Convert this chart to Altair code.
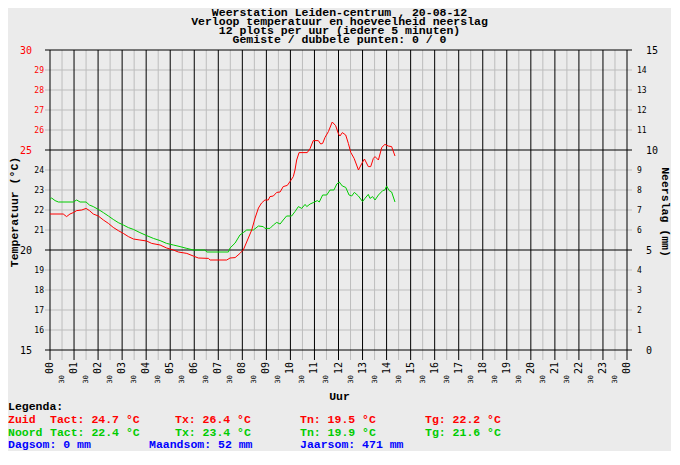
import altair as alt
import pandas as pd

TITLE_LINES = [
    "Weerstation Leiden-centrum , 20-08-12",
    "Verloop temperatuur en hoeveelheid neerslag",
    "12 plots per uur (iedere 5 minuten)",
    "Gemiste / dubbele punten: 0 / 0",
]

ZUID_H = [0.0, 0.55, 0.69, 0.83, 0.97, 1.11, 1.32, 1.5, 1.64, 1.8, 2.01, 2.22, 2.43, 2.63,
          2.84, 3.05, 3.26, 3.47, 3.74, 4.02, 4.23, 4.58, 4.85, 5.13, 5.34, 5.69, 5.96, 6.17,
          6.59, 6.66, 7.35, 7.49, 7.7, 7.9, 8.04, 8.25, 8.39, 8.53, 8.67, 8.8, 8.94, 9.08,
          9.15, 9.29, 9.43, 9.57, 9.7, 9.87, 10.01, 10.12, 10.19, 10.26, 10.36, 10.7, 10.82,
          10.95, 11.16, 11.26, 11.34, 11.44, 11.58, 11.74, 11.88, 12.0, 12.06, 12.16, 12.3,
          12.41, 12.51, 12.65, 12.83, 12.97, 13.08, 13.24, 13.34, 13.45, 13.52, 13.66, 13.8,
          13.93, 14.07, 14.21, 14.35]
ZUID_T = [21.8, 21.8, 21.67, 21.8, 21.87, 21.97, 22.0, 22.08, 21.97, 21.8, 21.7, 21.5, 21.33,
          21.13, 20.97, 20.83, 20.67, 20.55, 20.5, 20.45, 20.33, 20.25, 20.1, 20.0, 19.9,
          19.83, 19.7, 19.6, 19.58, 19.5, 19.5, 19.6, 19.62, 19.83, 20.0, 20.6, 21.0, 21.6,
          22.1, 22.35, 22.5, 22.5, 22.67, 22.7, 22.88, 22.9, 23.17, 23.23, 23.47, 23.67, 24.0,
          24.5, 24.87, 24.87, 25.08, 25.47, 25.47, 25.3, 25.33, 25.63, 25.92, 26.4, 26.22,
          25.8, 25.7, 25.87, 25.75, 25.33, 24.88, 24.58, 24.0, 24.33, 24.55, 24.17, 24.17,
          24.58, 24.67, 24.5, 25.13, 25.28, 25.2, 25.17, 24.7]

NOORD_H = [0.0, 0.07, 0.21, 0.35, 0.97, 1.11, 1.25, 1.5, 1.64, 1.8, 2.01, 2.22, 2.43, 2.63,
           2.84, 3.05, 3.26, 3.47, 3.74, 4.02, 4.3, 4.58, 4.85, 5.13, 5.41, 5.69, 5.96, 6.45,
           6.52, 7.42, 7.49, 7.7, 7.9, 8.04, 8.18, 8.46, 8.67, 8.87, 8.94, 9.15, 9.29, 9.43,
           9.57, 9.7, 9.84, 10.05, 10.19, 10.33, 10.47, 10.61, 10.68, 10.82, 10.95, 11.12,
           11.2, 11.34, 11.51, 11.65, 11.81, 11.93, 12.03, 12.16, 12.3, 12.44, 12.55, 12.66,
           12.83, 13.0, 13.1, 13.24, 13.31, 13.42, 13.52, 13.66, 13.84, 13.93, 14.0, 14.11,
           14.21, 14.35]
NOORD_T = [22.53, 22.6, 22.47, 22.4, 22.4, 22.5, 22.4, 22.4, 22.25, 22.17, 22.03, 21.87, 21.7,
           21.53, 21.37, 21.25, 21.12, 21.03, 20.87, 20.72, 20.58, 20.47, 20.33, 20.25, 20.17,
           20.08, 20.0, 20.0, 19.9, 19.9, 20.1, 20.35, 20.75, 20.87, 21.0, 21.0, 21.2, 21.17,
           21.08, 21.08, 21.25, 21.38, 21.3, 21.5, 21.7, 21.7, 21.92, 22.17, 22.08, 22.28,
           22.17, 22.3, 22.37, 22.47, 22.4, 22.75, 22.75, 23.0, 23.0, 23.3, 23.4, 23.2, 23.13,
           22.75, 22.7, 22.88, 22.7, 22.42, 22.58, 22.78, 22.58, 22.67, 22.5, 22.75, 22.97,
           23.0, 23.2, 22.97, 22.9, 22.4]

HOUR_TICKS = list(range(25))
HOUR_LABELS = ["00", "01", "02", "03", "04", "05", "06", "07", "08", "09", "10", "11", "12",
               "13", "14", "15", "16", "17", "18", "19", "20", "21", "22", "23", "00"]
HALF_TICKS = [h + 0.5 for h in range(24)]
HALF_LABELS = ["30"] * 24

TEMP_MAJOR = [15, 20, 25, 30]
TEMP_MINOR = [16, 17, 18, 19, 21, 22, 23, 24, 26, 27, 28, 29]
MM_MAJOR = [0, 5, 10, 15]
MM_MINOR = [1, 2, 3, 4, 6, 7, 8, 9, 11, 12, 13, 14]

STATIONS = ["Zuid", "Noord"]
TACT = [24.7, 22.4]
TX = [26.4, 23.4]
TN = [19.5, 19.9]
TG = [22.2, 21.6]
DAGSOM = 0
MAANDSOM = 52
JAARSOM = 471

MONO = "DejaVu Sans Mono"
BOLDFONT = "Liberation Mono"
RED = "#ff0000"
GREEN = "#00cc00"
BLUE = "#0000ff"
GRAY = "#bdbdbd"
BG = "#ebebeb"

W, H = 577, 300
XS = alt.Scale(domain=[0, 24], nice=False, zero=False)
YS = alt.Scale(domain=[15, 30], nice=False, zero=False)
MS = alt.Scale(domain=[0, 15], nice=False, zero=False)

layers = []

half_df = pd.DataFrame({"h": HALF_TICKS, "lab": HALF_LABELS})
hour_df = pd.DataFrame({"h": HOUR_TICKS, "lab": HOUR_LABELS})
tmin_df = pd.DataFrame({"t": TEMP_MINOR})
tmaj_df = pd.DataFrame({"t": TEMP_MAJOR})

# grid
layers.append(alt.Chart(half_df).mark_rule(color=GRAY, strokeWidth=1).encode(
    x=alt.X("h:Q", scale=XS, axis=None), y=alt.value(0), y2=alt.value(H + 10)))
layers.append(alt.Chart(tmin_df).mark_rule(color=GRAY, strokeWidth=1).encode(
    y=alt.Y("t:Q", scale=YS, axis=None), x=alt.value(-5), x2=alt.value(W + 5)))
layers.append(alt.Chart(hour_df).mark_rule(color="black", strokeWidth=1).encode(
    x=alt.X("h:Q", scale=XS, axis=None), y=alt.value(0), y2=alt.value(H + 10)))
layers.append(alt.Chart(tmaj_df).mark_rule(color="black", strokeWidth=1).encode(
    y=alt.Y("t:Q", scale=YS, axis=None), x=alt.value(-5), x2=alt.value(W + 5)))

# data lines
zuid_df = pd.DataFrame({"h": ZUID_H, "t": ZUID_T})
noord_df = pd.DataFrame({"h": NOORD_H, "t": NOORD_T})
layers.append(alt.Chart(noord_df).mark_line(color=GREEN, strokeWidth=1).encode(
    x=alt.X("h:Q", scale=XS, axis=None), y=alt.Y("t:Q", scale=YS, axis=None), order="h:Q"))
layers.append(alt.Chart(zuid_df).mark_line(color=RED, strokeWidth=1).encode(
    x=alt.X("h:Q", scale=XS, axis=None), y=alt.Y("t:Q", scale=YS, axis=None), order="h:Q"))

# x tick labels (vertical, reading upward)
layers.append(alt.Chart(hour_df).mark_text(font=MONO, fontSize=10, angle=270, align="right",
                                           baseline="middle", color="black").encode(
    x=alt.X("h:Q", scale=XS, axis=None), y=alt.value(H + 12), text="lab:N"))
layers.append(alt.Chart(half_df).mark_text(font=MONO, fontSize=7, angle=270, align="right",
                                           baseline="middle", color="black").encode(
    x=alt.X("h:Q", scale=XS, axis=None), y=alt.value(H + 25), text="lab:N"))

# left tick labels
tcol = alt.condition(alt.datum.t >= 25, alt.value(RED), alt.value("black"))
layers.append(alt.Chart(tmaj_df).mark_text(font=MONO, fontSize=10, align="right",
                                           baseline="middle", dy=1).encode(
    y=alt.Y("t:Q", scale=YS, axis=None), x=alt.value(-18), text="t:N", color=tcol))
layers.append(alt.Chart(tmin_df).mark_text(font=MONO, fontSize=8, align="right",
                                           baseline="middle", dy=1).encode(
    y=alt.Y("t:Q", scale=YS, axis=None), x=alt.value(-6), text="t:N", color=tcol))

# right tick labels
layers.append(alt.Chart(pd.DataFrame({"m": MM_MAJOR})).mark_text(
    font=MONO, fontSize=10, align="left", baseline="middle", dy=1, color="black").encode(
    y=alt.Y("m:Q", scale=MS, axis=None), x=alt.value(W + 19), text="m:N"))
layers.append(alt.Chart(pd.DataFrame({"m": MM_MINOR})).mark_text(
    font=MONO, fontSize=8, align="left", baseline="middle", dy=1, color="black").encode(
    y=alt.Y("m:Q", scale=MS, axis=None), x=alt.value(W + 10), text="m:N"))


def txt(s, x, y, size=11.5, color="black", align="left", angle=0, baseline="alphabetic",
        weight="bold"):
    kw = dict(font=BOLDFONT, fontSize=size, fontWeight=weight, color=color, align=align,
              baseline=baseline)
    if angle:
        kw["angle"] = angle
    return alt.Chart(pd.DataFrame({"s": [s]})).mark_text(**kw).encode(
        text="s:N", x=alt.value(x), y=alt.value(y))


# axis titles
layers.append(txt("Temperatuur (°C)", -35, 162, angle=270, align="center", baseline="middle"))
layers.append(txt("Neerslag (mm)", W + 38, 162, angle=90, align="center", baseline="middle"))
layers.append(txt("Uur", W / 2 + 1, 350, align="center"))

# title
for i, line in enumerate(TITLE_LINES):
    layers.append(txt(line, W / 2 + 1, -34 + 9 * i, align="center"))

# legend
layers.append(txt("Legenda:", -42, 360))
colors = [RED, GREEN]
for i, st in enumerate(STATIONS):
    y = 373 + 13 * i
    c = colors[i]
    layers.append(txt(st, -42, y, color=c))
    layers.append(txt(f"Tact: {TACT[i]:.1f} °C", 0, y, color=c))
    layers.append(txt(f"Tx: {TX[i]:.1f} °C", 125, y, color=c))
    layers.append(txt(f"Tn: {TN[i]:.1f} °C", 250, y, color=c))
    layers.append(txt(f"Tg: {TG[i]:.1f} °C", 375, y, color=c))
layers.append(txt(f"Dagsom: {DAGSOM} mm", -42, 398, color=BLUE))
layers.append(txt(f"Maandsom: {MAANDSOM} mm", 99, 398, color=BLUE))
layers.append(txt(f"Jaarsom: {JAARSOM} mm", 250, 398, color=BLUE))

chart = alt.layer(*layers).resolve_scale(y="independent").properties(
    width=W, height=H,
    autosize=alt.AutoSizeParams(type="none"),
    padding={"left": 42, "top": 42, "right": 44, "bottom": 101},
    background=BG,
).configure_view(strokeWidth=0)

chart.save("out.html", embed_options={"renderer": "svg", "actions": False})
